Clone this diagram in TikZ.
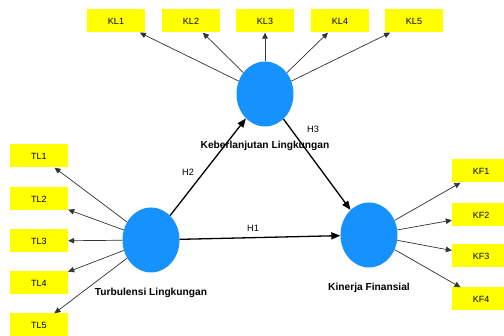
\documentclass[tikz,border=0pt]{standalone}
\usepackage{fontspec}
\setmainfont{Liberation Sans}
\usetikzlibrary{arrows.meta,shapes.geometric}
\definecolor{lvblue}{RGB}{22,146,255}
\definecolor{indyel}{RGB}{255,255,0}
\begin{document}
\begin{tikzpicture}[x=1pt,y=-1pt,
  ind/.style={fill=indyel,minimum width=58pt,minimum height=23pt,inner sep=0pt,font=\fontsize{9}{10}\selectfont},
  lv/.style={ellipse,fill=lvblue,minimum width=57pt,minimum height=65pt,inner sep=0pt},
  lbl/.style={font=\bfseries\fontsize{10.2}{12}\selectfont},
  hl/.style={font=\fontsize{9.2}{10}\selectfont},
  load/.style={draw=black!80,line width=0.7pt,-{Triangle[length=6pt,width=5.5pt]}},
  path/.style={draw=black,line width=1.3pt,-{Triangle[length=9pt,width=7pt]}}]
\useasboundingbox (0,0) rectangle (504,336);
\clip (0,0) rectangle (504,336);
% indicators
\node[ind] (TL1) at (39,156) {TL1};
\node[ind] (TL2) at (39,199) {TL2};
\node[ind] (TL3) at (39,241) {TL3};
\node[ind] (TL4) at (39,283) {TL4};
\node[ind] (TL5) at (39,325) {TL5};
\node[ind] (KL1) at (116,21) {KL1};
\node[ind] (KL2) at (191,21) {KL2};
\node[ind] (KL3) at (265,21) {KL3};
\node[ind] (KL4) at (340,21) {KL4};
\node[ind] (KL5) at (414,21) {KL5};
\node[ind] (KF1) at (481,171) {KF1};
\node[ind] (KF2) at (481,215) {KF2};
\node[ind] (KF3) at (481,256) {KF3};
\node[ind] (KF4) at (481,299) {KF4};
% latent variables
\node[lv] (TL) at (151,240) {};
\node[lv] (KL) at (265,94) {};
\node[lv] (KF) at (369,235) {};
\node[lbl] (TLl) at (151,293) {Turbulensi Lingkungan};
\node[lbl] (KLl) at (265,146) {Keberlanjutan Lingkungan};
\node[lbl] (KFl) at (369,288) {Kinerja Finansial};
% loadings
\foreach \i in {1,...,5} {\draw[load] (TL) -- (TL\i);}
\foreach \i in {1,...,5} {\draw[load] (KL) -- (KL\i);}
\foreach \i in {1,...,4} {\draw[load] (KF) -- (KF\i);}
% paths
\draw[path] (TL) -- (KF);
\draw[path] (TL) -- (KL);
\draw[path] (KL) -- (KF);
\node[hl] (H1) at (253,228) {H1};
\node[hl] (H2) at (188,172) {H2};
\node[hl] (H3) at (313,129) {H3};
\end{tikzpicture}
\end{document}
